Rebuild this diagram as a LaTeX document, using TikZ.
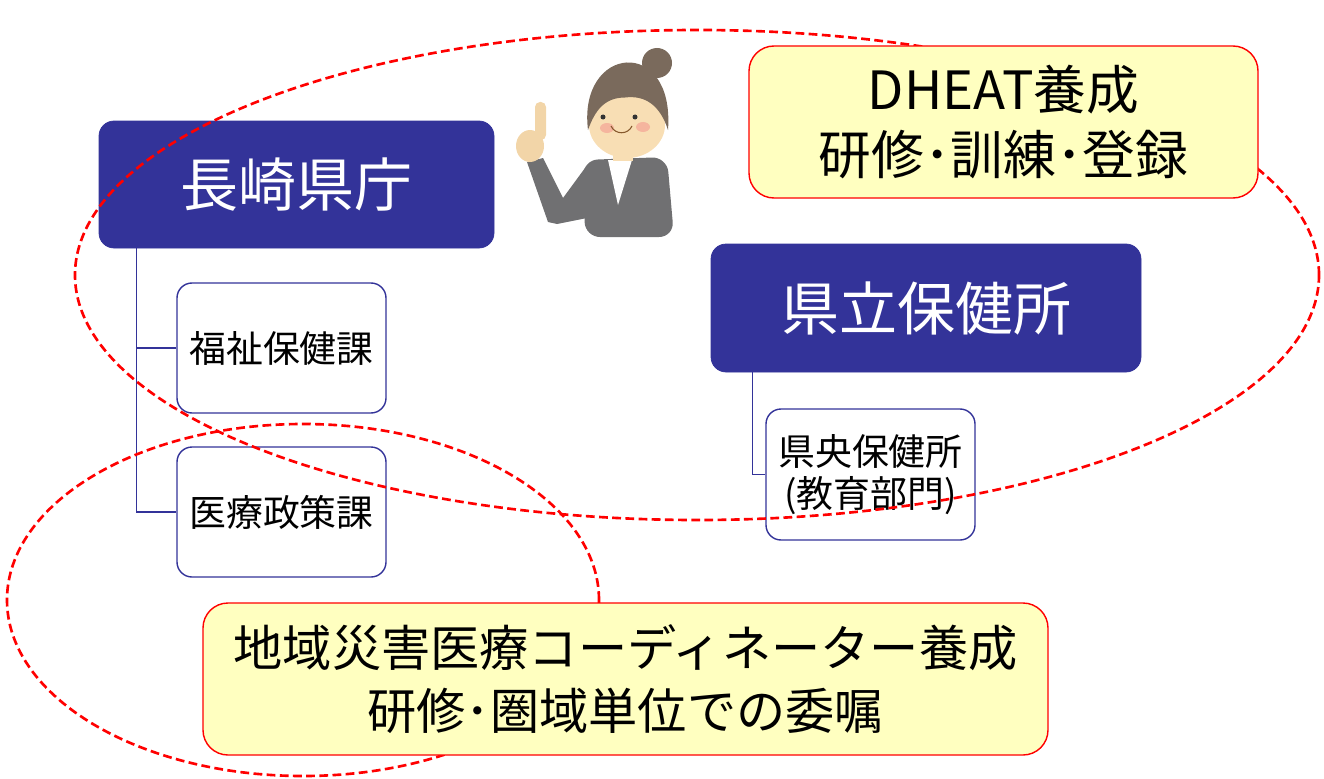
\documentclass[tikz,border=0pt]{standalone}
\usepackage{fontspec}
\setmainfont{Noto Sans CJK JP}

\definecolor{navy}{RGB}{51,51,153}
\definecolor{memo}{RGB}{255,255,192}
\definecolor{hair}{RGB}{122,106,92}
\definecolor{skin}{RGB}{248,222,180}
\definecolor{suit}{RGB}{112,112,114}
\definecolor{cheek}{RGB}{244,164,150}

\tikzset{
  office/.style={fill=navy, draw=navy, rounded corners=0.3cm, inner sep=0pt, text=white, font=\fontsize{33}{38}\selectfont},
  section/.style={fill=white, draw=navy, line width=0.8pt, rounded corners=0.3cm, inner sep=0pt, align=center, font=\fontsize{21}{24}\selectfont},
  training/.style={fill=memo, draw=red, line width=0.8pt, rounded corners=0.5cm, inner sep=0pt, align=center, font=\fontsize{28}{36}\selectfont},
  branch/.style={draw=navy, line width=0.8pt},
  area/.style={draw=red, line width=1.5pt, dash pattern=on 5pt off 2.5pt}
}

\begin{document}
\begin{tikzpicture}
\useasboundingbox (0,0) rectangle (26.48,-15.56);

% Prefectural office and its sections
\node[office, minimum width=7.9cm, minimum height=2.54cm] (kencho) at (5.93,-3.69) {長崎県庁};
\node[section, minimum width=4.18cm, minimum height=2.6cm] (fukushi) at (5.63,-6.96) {福祉保健課};
\node[section, minimum width=4.18cm, minimum height=2.6cm] (iryo) at (5.63,-10.24) {医療政策課};
\draw[branch] ([xshift=0.76cm]kencho.south west) |- (fukushi.west);
\draw[branch] ([xshift=0.76cm]kencho.south west) |- (iryo.west);

% Health centres
\node[office, minimum width=8.6cm, minimum height=2.56cm] (hokenjo) at (18.52,-6.16) {県立保健所};
\node[section, minimum width=4.18cm, minimum height=2.62cm] (kenou) at (17.41,-9.49) {県央保健所\\(教育部門)};
\draw[branch] ([xshift=0.84cm]hokenjo.south west) |- (kenou.west);

% Woman pointing up
\fill[suit] (10.54,-3.24) -- (10.86,-3.16) -- (11.26,-3.96) -- (11.7,-3.36) -- (11.74,-4.36) -- (11.14,-4.48) -- (10.96,-4.44) -- cycle;
\fill[suit, rounded corners=0.3cm] (11.7,-4.74) -- (11.66,-3.2) -- (13.34,-3.14) -- (13.48,-4.74) -- cycle;
\fill[white] (12.16,-3.2) -- (12.64,-3.2) -- (12.36,-4.1) -- cycle;
\fill[skin] (12.26,-2.9) rectangle (12.66,-3.22);
\fill[skin] (12.54,-2.5) ellipse (0.76cm and 0.66cm);
\fill[hair] (11.76,-2.6) .. controls (11.55,-0.9) and (13.5,-0.7) .. (13.36,-2.6)
  .. controls (13.2,-2.1) and (12.9,-1.9) .. (12.5,-1.95)
  .. controls (12.1,-1.95) and (11.9,-2.2) .. cycle;
\fill[hair] (13.14,-1.26) circle (0.3cm);
\fill[black!80] (12.06,-2.34) circle (0.05cm) (12.7,-2.34) circle (0.05cm);
\fill[cheek, opacity=0.7] (12.14,-2.56) ellipse (0.14cm and 0.1cm) (12.86,-2.54) ellipse (0.14cm and 0.1cm);
\draw[brown!70!black, line width=0.6pt] (12.22,-2.52) .. controls (12.3,-2.7) and (12.56,-2.7) .. (12.64,-2.52);
\fill[skin!90!brown, rounded corners=0.1cm] (10.7,-2.04) rectangle (10.92,-2.8);
\fill[skin!90!brown] (10.6,-2.92) ellipse (0.28cm and 0.32cm);

% Areas of responsibility
\draw[area] (13.94,-5.5) ellipse (12.44cm and 4.9cm);
\draw[area] (6.06,-12.0) ellipse (5.92cm and 3.52cm);

% Training programmes
\node[training, minimum width=10.18cm, minimum height=3.04cm, font=\fontsize{30}{37}\selectfont] (dheat) at (20.07,-2.44) {DHEAT養成\\研修･訓練･登録};
\node[training, minimum width=16.9cm, minimum height=3.04cm] (coord) at (12.51,-13.58) {地域災害医療コーディネーター養成\\研修･圏域単位での委嘱};
\end{tikzpicture}
\end{document}
